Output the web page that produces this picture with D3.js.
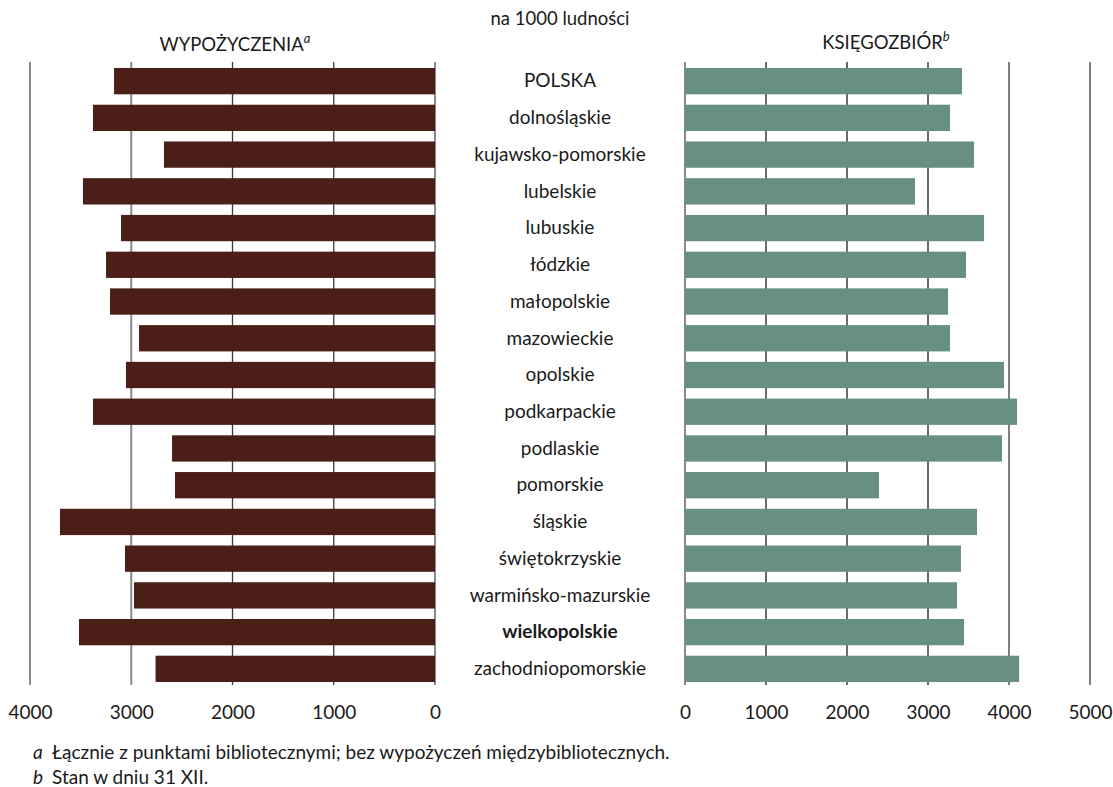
<!DOCTYPE html>
<html><head><meta charset="utf-8">
<script src="https://cdn.jsdelivr.net/npm/d3@7"></script>
<style>
html,body{margin:0;padding:0;background:#fff;}
text{font-family:Lato,"Open Sans",sans-serif;fill:#1a1a1a;}
</style></head>
<body><svg id="c" width="1113" height="787"></svg>
<script>
const categories = ["POLSKA","dolnośląskie","kujawsko-pomorskie","lubelskie","lubuskie","łódzkie","małopolskie","mazowieckie","opolskie","podkarpackie","podlaskie","pomorskie","śląskie","świętokrzyskie","warmińsko-mazurskie","wielkopolskie","zachodniopomorskie"];
const wypozyczenia = [3170,3378,2677,3477,3101,3249,3210,2923,3052,3378,2597,2568,3704,3062,2973,3516,2760];
const ksiegozbior = [3420,3272,3568,2840,3691,3469,3247,3272,3938,4099,3914,2395,3605,3407,3358,3444,4125];
const leftTicks = [4000,3000,2000,1000,0];
const rightTicks = [0,1000,2000,3000,4000,5000];
const boldCategory = "wielkopolskie";

const svg = d3.select("#c");
const plotTop = 62, plotBottom = 688, gridBottom = 685;
const y = d3.scaleBand().domain(categories).range([plotTop,plotBottom]).paddingInner(0.284).paddingOuter(0.163);
const xL = d3.scaleLinear().domain([0,4000]).range([435,30]);
const xR = d3.scaleLinear().domain([0,5000]).range([685,1090]);

// gridlines
const gL = svg.append("g");
gL.selectAll("line").data(leftTicks).join("line")
  .attr("x1",d=>xL(d)).attr("x2",d=>xL(d)).attr("y1",plotTop).attr("y2",gridBottom)
  .attr("stroke",(d,i)=> (d===2000||d===1000)?"#3a3a3a":"#8a8a8a")
  .attr("stroke-width",(d)=> (d===2000||d===1000)?1.3:2);
const gR = svg.append("g");
gR.selectAll("line").data(rightTicks).join("line")
  .attr("x1",d=>xR(d)).attr("x2",d=>xR(d)).attr("y1",plotTop).attr("y2",gridBottom)
  .attr("stroke",d=> d>=4000?"#3a3a3a":(d===0?"#8a8a8a":"#6a6a6a"))
  .attr("stroke-width",d=> d>=4000?1.3:2);

// bars
svg.append("g").selectAll("rect").data(categories).join("rect")
  .attr("x",(d,i)=>xL(wypozyczenia[i])).attr("width",(d,i)=>xL(0)-xL(wypozyczenia[i]))
  .attr("y",d=>y(d)).attr("height",y.bandwidth()).attr("fill","#4b1f18");
svg.append("g").selectAll("rect").data(categories).join("rect")
  .attr("x",xR(0)).attr("width",(d,i)=>xR(ksiegozbior[i])-xR(0))
  .attr("y",d=>y(d)).attr("height",y.bandwidth()).attr("fill","#678f84");

// category labels
svg.append("g").selectAll("text").data(categories).join("text")
  .attr("x",560).attr("y",d=>y(d)+y.bandwidth()/2).attr("dy","0.33em")
  .attr("text-anchor","middle").attr("font-size",19)
  .attr("font-weight",d=>d===boldCategory?"bold":"normal")
  .text(d=>d);

// axes tick labels
const axL = d3.axisBottom(xL).tickValues(leftTicks).tickSize(0).tickPadding(0).tickFormat(d3.format("d"));
const aL = svg.append("g").attr("transform",`translate(0,705)`).call(axL);
const axR = d3.axisBottom(xR).tickValues(rightTicks).tickSize(0).tickPadding(0).tickFormat(d3.format("d"));
const aR = svg.append("g").attr("transform",`translate(0,705)`).call(axR);
[aL,aR].forEach(a=>{a.select(".domain").remove();a.selectAll("text").attr("font-size",19).attr("fill","#1a1a1a").attr("font-family","Lato, 'Open Sans', sans-serif");});

// titles
svg.append("text").attr("x",560).attr("y",25).attr("text-anchor","middle").attr("font-size",18.5).text("na 1000 ludności");
const t1 = svg.append("text").attr("x",235).attr("y",51).attr("text-anchor","middle").attr("font-size",18.5);
t1.append("tspan").text("WYPOŻYCZENIA");
t1.append("tspan").attr("font-style","italic").attr("font-size",13).attr("dy",-8).text("a");
const t2 = svg.append("text").attr("x",886).attr("y",49).attr("text-anchor","middle").attr("font-size",18.5);
t2.append("tspan").text("KSIĘGOZBIÓR");
t2.append("tspan").attr("font-style","italic").attr("font-size",13).attr("dy",-8).text("b");

// footnotes
const notes = [["a","Łącznie z punktami bibliotecznymi; bez wypożyczeń międzybibliotecznych."],["b","Stan w dniu 31 XII."]];
notes.forEach((n,i)=>{
  svg.append("text").attr("x",33).attr("y",759+i*25).attr("font-size",19).attr("font-style","italic").text(n[0]);
  svg.append("text").attr("x",52).attr("y",759+i*25).attr("font-size",19).text(n[1]);
});
</script></body></html>
